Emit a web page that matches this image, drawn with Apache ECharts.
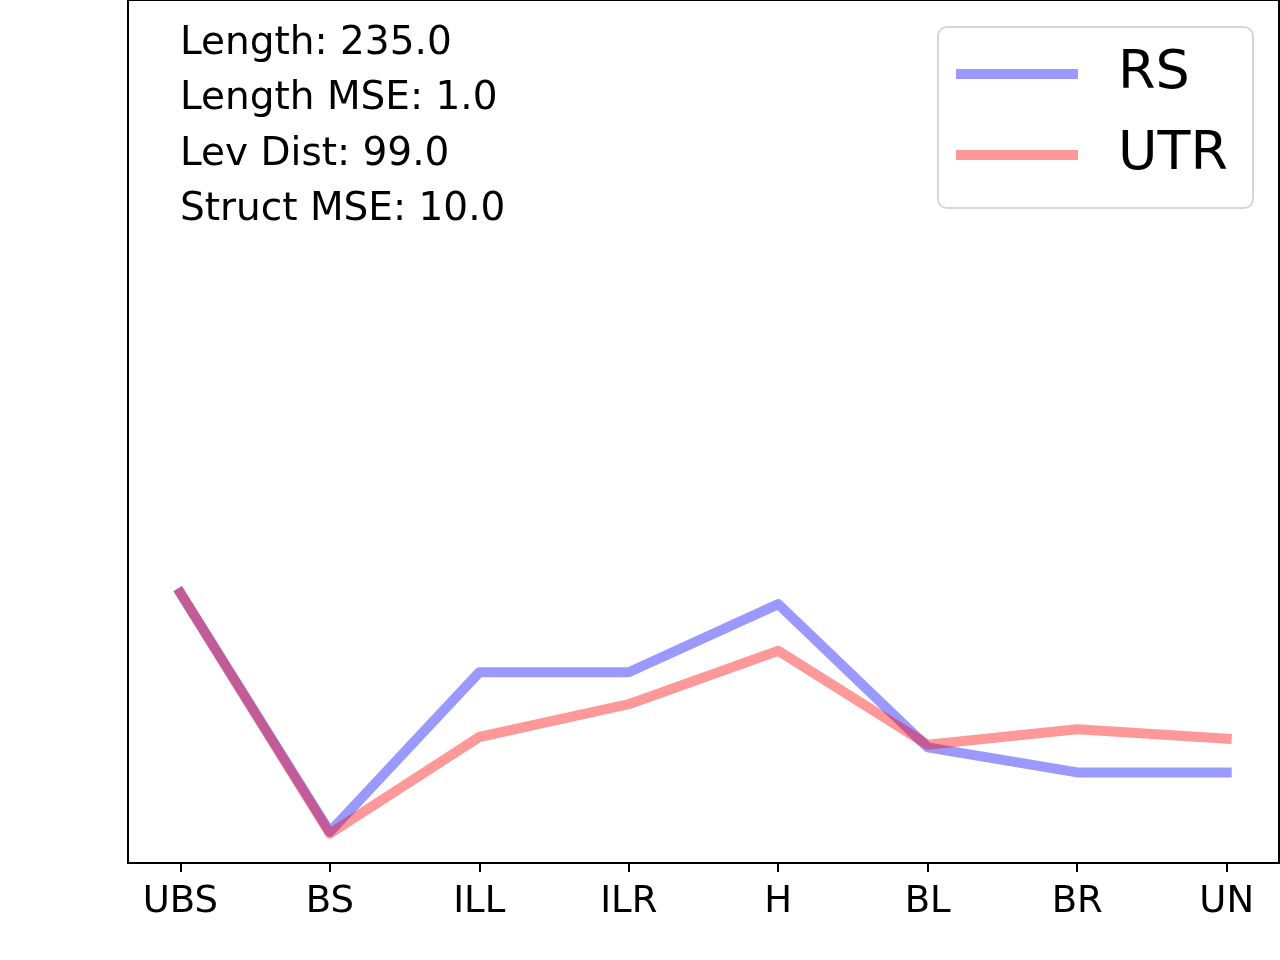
<!DOCTYPE html>
<html>
<head>
<meta charset="utf-8">
<script src="https://cdn.jsdelivr.net/npm/echarts@6/dist/echarts.min.js"></script>
<style>html,body{margin:0;padding:0;background:#fff}#c{width:1280px;height:960px}</style>
</head>
<body>
<div id="c"></div>
<script>
const categories = ['UBS', 'BS', 'ILL', 'ILR', 'H', 'BL', 'BR', 'UN'];
const rsValues  = [3.13, 0.36, 2.21, 2.21, 3.00, 1.34, 1.05, 1.05];
const utrValues = [3.13, 0.34, 1.46, 1.84, 2.46, 1.37, 1.55, 1.44];
const infoLines = ['Length: 235.0', 'Length MSE: 1.0', 'Lev Dist: 99.0', 'Struct MSE: 10.0'];
const tickPositions = categories.map((c, i) => i);

const font = 'DejaVu Sans';
const chart = echarts.init(document.getElementById('c'));
const toPairs = arr => arr.map((v, i) => [i, v]);

chart.setOption({
  animation: false,
  backgroundColor: '#fff',
  title: {
    text: infoLines.join('\n'),
    left: 180,
    top: 16,
    padding: 0,
    textStyle: { fontFamily: font, fontSize: 39, fontWeight: 'normal', color: '#000', lineHeight: 55.5 }
  },
  grid: {
    left: 128, right: 1, top: 0, bottom: 97,
    show: true, borderColor: '#000', borderWidth: 2, backgroundColor: 'transparent'
  },
  legend: {
    orient: 'vertical',
    left: 938, top: 27,
    backgroundColor: '#fff',
    borderColor: '#d6d6d6',
    borderWidth: 2,
    borderRadius: 9,
    padding: [17, 25, 23, 18],
    itemGap: 21,
    itemWidth: 122,
    itemHeight: 10,
    icon: 'rect',
    textStyle: { fontFamily: font, fontSize: 54, color: '#000', lineHeight: 60, padding: [0, 0, 0, 35] },
    data: ['RS', 'UTR']
  },
  xAxis: {
    type: 'value',
    min: -0.35,
    max: 7.35,
    axisLine: { show: false },
    splitLine: { show: false },
    axisTick: { show: true, length: 9, lineStyle: { color: '#000', width: 2 }, customValues: tickPositions },
    axisLabel: {
      show: true,
      customValues: tickPositions,
      margin: 21,
      fontFamily: font, fontSize: 37, color: '#000',
      formatter: v => categories[Math.round(v)]
    }
  },
  yAxis: {
    type: 'value', min: 0, max: 10,
    show: false,
    splitLine: { show: false }
  },
  series: [
    {
      name: 'RS', type: 'line', data: toPairs(rsValues), symbol: 'none',
      itemStyle: { color: 'rgba(0,0,255,0.4)' },
      lineStyle: { color: 'rgba(0,0,255,0.4)', width: 10, cap: 'square', join: 'round' }
    },
    {
      name: 'UTR', type: 'line', data: toPairs(utrValues), symbol: 'none',
      itemStyle: { color: 'rgba(255,0,0,0.4)' },
      lineStyle: { color: 'rgba(255,0,0,0.4)', width: 10, cap: 'square', join: 'round' }
    }
  ]
});
</script>
</body>
</html>
